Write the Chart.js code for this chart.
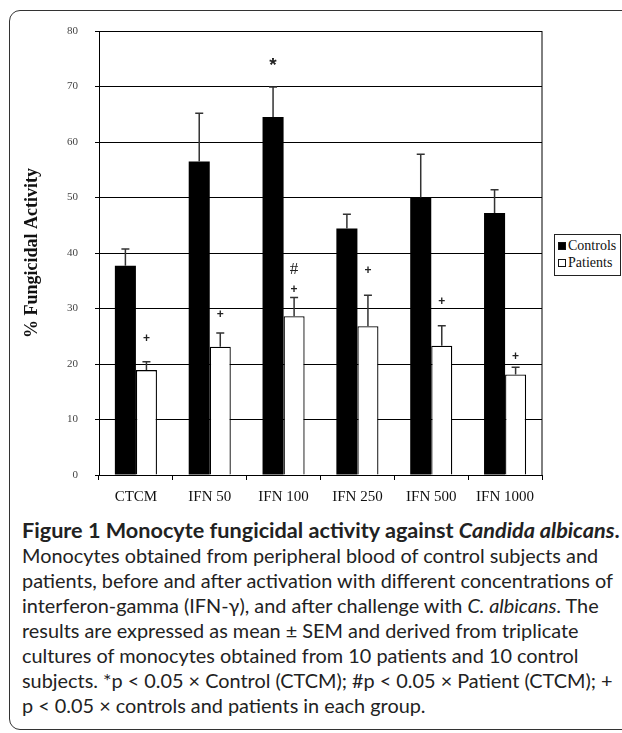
<!DOCTYPE html>
<html>
<head>
<meta charset="utf-8">
<script src="https://cdn.jsdelivr.net/npm/chart.js@4"></script>
<style>
  html, body { margin: 0; padding: 0; background: #fff; }
  body { width: 622px; height: 733px; position: relative; overflow: hidden; }
  #frame { position: absolute; left: 9px; top: 10px; width: 700px; height: 720px;
           border: 1.5px solid #333; border-radius: 11px; box-sizing: border-box; }
  #wrap { position: absolute; left: 0; top: 0; width: 622px; height: 515px; }
  #legend { position: absolute; left: 554px; top: 234px; width: 67px; height: 42px;
            border: 1px solid #222; box-sizing: border-box; background: #fff;
            font-family: 'Liberation Serif', serif; font-size: 14px; color: #111; }
  #legend div { height: 17px; line-height: 17px; padding-left: 3px; margin-top: 2px; }
  #legend span { display: inline-block; width: 8px; height: 8px; box-sizing: border-box;
                 border: 1px solid #111; margin-right: 2px; vertical-align: 0px; }
  #caption { position: absolute; left: 22px; top: 518px; font-family: Lato, sans-serif;
             line-height: 25px; color: #222; white-space: nowrap; }
  #caption div { width: max-content; }
</style>
</head>
<body>
<div id="frame"></div>
<div id="wrap"><canvas id="chart"></canvas></div>
<div id="legend">
  <div><span style="background:#000"></span>Controls</div>
  <div style="margin-top:0"><span style="background:#fff"></span>Patients</div>
</div>
<div id="caption">
  <div id="boldLine"><b>Figure 1 Monocyte fungicidal activity against <i>Candida albicans</i>.</b></div>
  <div>Monocytes obtained from peripheral blood of control subjects and</div>
  <div id="fitLine">patients, before and after activation with different concentrations of</div>
  <div>interferon-gamma (IFN-γ), and after challenge with <i>C. albicans</i>. The</div>
  <div>results are expressed as mean ± SEM and derived from triplicate</div>
  <div>cultures of monocytes obtained from 10 patients and 10 control</div>
  <div>subjects. *p &lt; 0.05 × Control (CTCM); #p &lt; 0.05 × Patient (CTCM); +</div>
  <div>p &lt; 0.05 × controls and patients in each group.</div>
</div>
<script>
const groups = ['CTCM', 'IFN 50', 'IFN 100', 'IFN 250', 'IFN 500', 'IFN 1000'];
const controls = [37.7, 56.5, 64.5, 44.4, 50.0, 47.2];
const controlsSem = [3.0, 8.7, 5.4, 2.6, 7.8, 4.2];
const patients = [18.9, 23.1, 28.6, 26.8, 23.3, 18.1];
const patientsSem = [1.5, 2.5, 3.4, 5.6, 3.6, 1.3];
// significance marks: height (in % units) of each mark
const patientPlus = [24.5, 28.8, 33.3, 36.8, 31.2, 21.3];
const patientHash = [null, null, 37.1, null, null, null];
const controlStar = [null, null, 74.2, null, null, null];
const yTicks = [0, 10, 20, 30, 40, 50, 60, 70, 80];

// fit caption font so the long lines span the same width as in the figure
const cap = document.getElementById('caption');
cap.style.fontSize = '100px';
const w100 = document.getElementById('fitLine').getBoundingClientRect().width;
const bold = document.getElementById('boldLine');
const b100 = bold.getBoundingClientRect().width;
cap.style.fontSize = (591 * 100 / w100).toFixed(2) + 'px';
bold.style.fontSize = (598 * 100 / b100).toFixed(2) + 'px';

const extras = {
  id: 'extras',
  beforeDatasetsDraw(chart) {
    const { ctx, chartArea } = chart;
    ctx.save();
    ctx.strokeStyle = '#000';
    ctx.lineWidth = 1;
    ctx.beginPath();
    ctx.moveTo(chartArea.right, chartArea.top);
    ctx.lineTo(chartArea.right, chartArea.bottom);
    ctx.stroke();
    ctx.restore();
  },
  afterDatasetsDraw(chart) {
    const { ctx } = chart;
    const y = chart.scales.y;
    const sems = [controlsSem, patientsSem];
    ctx.save();
    ctx.strokeStyle = '#333';
    ctx.lineWidth = 1.5;
    chart.data.datasets.forEach((ds, d) => {
      chart.getDatasetMeta(d).data.forEach((bar, i) => {
        const top = y.getPixelForValue(ds.data[i] + sems[d][i]);
        const base = y.getPixelForValue(ds.data[i]);
        ctx.beginPath();
        ctx.moveTo(bar.x, base);
        ctx.lineTo(bar.x, top);
        ctx.moveTo(bar.x - 4, top);
        ctx.lineTo(bar.x + 4, top);
        ctx.stroke();
      });
    });
    ctx.fillStyle = '#222';
    ctx.textAlign = 'center';
    ctx.textBaseline = 'middle';
    const cBars = chart.getDatasetMeta(0).data;
    const pBars = chart.getDatasetMeta(1).data;
    ctx.font = 'bold 12px "Liberation Sans"';
    patientPlus.forEach((v, i) => {
      if (v != null) ctx.fillText('+', pBars[i].x, y.getPixelForValue(v));
    });
    ctx.font = '17px "Liberation Serif"';
    patientHash.forEach((v, i) => {
      if (v != null) ctx.fillText('#', pBars[i].x, y.getPixelForValue(v));
    });
    ctx.font = 'bold 19px "Liberation Sans"';
    controlStar.forEach((v, i) => {
      if (v != null) ctx.fillText('*', cBars[i].x, y.getPixelForValue(v) + 3);
    });
    ctx.restore();
  }
};

new Chart(document.getElementById('chart').getContext('2d'), {
  type: 'bar',
  data: {
    labels: groups,
    datasets: [{
      label: 'Controls',
      data: controls,
      backgroundColor: '#000',
      borderWidth: 0,
      categoryPercentage: 0.57,
      barPercentage: 1
    }, {
      label: 'Patients',
      data: patients,
      backgroundColor: '#fff',
      borderColor: '#000',
      borderWidth: 1.3,
      categoryPercentage: 0.57,
      barPercentage: 1
    }]
  },
  options: {
    responsive: true,
    maintainAspectRatio: false,
    animation: false,
    layout: { padding: { left: 0, top: 31, right: 80, bottom: 0 } },
    plugins: {
      legend: { display: false },
      tooltip: { enabled: false }
    },
    scales: {
      x: {
        afterFit: (s) => { s.height = 40; },
        grid: { drawOnChartArea: false, drawTicks: true, tickLength: 5, color: '#000', offset: true },
        border: { color: '#000', width: 1 },
        ticks: { color: '#111', padding: 8, font: { family: 'Liberation Serif', size: 15 } }
      },
      y: {
        min: 0,
        max: 80,
        afterFit: (s) => { s.width = 99; },
        afterBuildTicks: (s) => { s.ticks = yTicks.map(v => ({ value: v })); },
        grid: { color: '#000', lineWidth: 1, tickLength: 4 },
        border: { color: '#000', width: 1 },
        ticks: { color: '#444', padding: 17, font: { family: 'Liberation Serif', size: 11 } },
        title: {
          display: true,
          text: '% Fungicidal Activity',
          color: '#111',
          padding: { top: 22, bottom: 0 },
          font: { family: 'Liberation Serif', size: 18, weight: 'bold' }
        }
      }
    }
  },
  plugins: [extras]
});
</script>
</body>
</html>
